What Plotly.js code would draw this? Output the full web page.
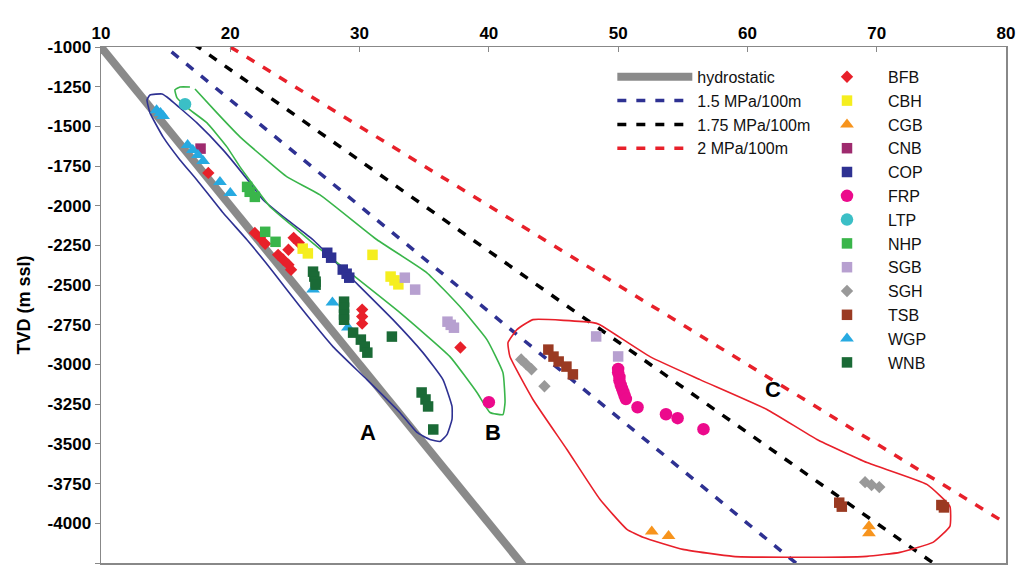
<!DOCTYPE html>
<html><head><meta charset="utf-8">
<script src="https://cdn.plot.ly/plotly-3.0.1.min.js"></script>
<style>html,body{margin:0;padding:0;background:#fff}</style>
</head><body><div id="chart" style="width:1019px;height:570px"></div>
<script>
// ---- gradient reference lines (MPa per 100 m) ----
const gradientNames = ["hydrostatic", "1.5 MPa/100m", "1.75 MPa/100m", "2 MPa/100m"];
const gradients = [1.0, 1.5, 1.75, 2.0];
const lineDepths = [500, 5000];

// ---- pressure data: x = pressure (MPa), y = TVD (m ssl) ----
const BFB_x = [18.3, 21.9, 22.3, 22.7, 24.9, 25.3, 24.5, 23.7, 24.1, 24.5, 24.7, 30.2, 30.2, 30.2, 37.8];
const BFB_y = [-1793, -2171, -2202, -2240, -2202, -2233, -2277, -2309, -2340, -2371, -2403, -2654, -2698, -2742, -2893];
const CBH_x = [25.6, 26.0, 31.0, 32.4, 32.7, 33.0];
const CBH_y = [-2270, -2300, -2309, -2446, -2470, -2495];
const CGB_x = [52.6, 53.9, 69.4, 69.4];
const CGB_y = [-4052, -4080, -4019, -4062];
const CNB_x = [17.7];
const CNB_y = [-1640];
const COP_x = [27.5, 27.8, 28.7, 29.0, 29.2];
const COP_y = [-2296, -2327, -2402, -2428, -2453];
const FRP_x = [40.0, 50.0, 50.0, 50.1, 50.1, 50.2, 50.3, 50.4, 50.5, 50.6, 51.5, 53.7, 54.6, 56.6];
const FRP_y = [-3237, -3028, -3050, -3078, -3100, -3129, -3150, -3173, -3195, -3217, -3269, -3313, -3338, -3407];
const LTP_x = [16.5];
const LTP_y = [-1360];
const NHP_x = [21.3, 21.5, 21.9, 22.7, 23.5];
const NHP_y = [-1881, -1912, -1944, -2164, -2227];
const SGB_x = [33.5, 34.3, 36.8, 37.05, 37.3, 48.3, 50.0];
const SGB_y = [-2453, -2528, -2730, -2750, -2768, -2823, -2949];
const SGH_x = [42.5, 42.9, 43.3, 44.3, 69.1, 69.6, 70.2];
const SGH_y = [-2968, -2999, -3030, -3137, -3741, -3759, -3772];
const TSB_x = [44.6, 45.0, 45.4, 46.0, 46.5, 67.1, 67.3, 75.0, 75.2];
const TSB_y = [-2906, -2950, -2981, -3013, -3062, -3870, -3895, -3885, -3900];
const WGP_x = [14.3, 14.6, 14.8, 16.7, 17.1, 17.5, 17.9, 19.2, 20.0, 26.4, 27.9, 29.1];
const WGP_y = [-1398, -1416, -1435, -1617, -1649, -1680, -1718, -1850, -1919, -2528, -2610, -2767];
const WNB_x = [26.4, 26.5, 26.6, 26.6, 28.8, 28.8, 28.8, 28.8, 29.5, 30.1, 30.4, 30.6, 32.5, 34.8, 35.1, 35.3, 35.7];
const WNB_y = [-2415, -2446, -2478, -2497, -2604, -2642, -2686, -2718, -2799, -2843, -2887, -2925, -2824, -3176, -3220, -3264, -3409];

// ---- hand-drawn group outlines A, B, C ----
const A_x = [13.56, 13.79, 14.72, 15.10, 17.42, 19.44, 21.52, 22.53, 24.39, 26.40, 29.26, 32.58, 34.90, 36.45, 37.15, 37.15, 36.76, 36.22, 35.44, 34.44, 33.12, 30.57, 27.94, 25.39, 23.30, 21.29, 19.44, 17.42, 16.11, 14.80, 13.79, 13.56];
const A_y = [-1333, -1302, -1296, -1315, -1478, -1648, -1855, -1962, -2088, -2214, -2447, -2717, -2925, -3095, -3264, -3346, -3441, -3485, -3472, -3428, -3302, -3095, -2887, -2635, -2415, -2214, -2044, -1837, -1711, -1566, -1415, -1333];
const B_x = [17.27, 18.97, 20.75, 22.53, 24.39, 26.94, 31.35, 35.21, 37.76, 39.85, 41.09, 41.25, 41.09, 40.09, 39.08, 36.99, 33.12, 29.26, 26.71, 25.16, 23.07, 22.06, 20.75, 19.74, 18.20, 16.88, 15.88, 15.72, 16.11, 16.88];
const B_y = [-1264, -1415, -1566, -1692, -1818, -1931, -2214, -2422, -2635, -2843, -3051, -3239, -3315, -3302, -3176, -2950, -2673, -2422, -2258, -2151, -2006, -1899, -1755, -1629, -1478, -1396, -1321, -1270, -1252, -1252];
const C_x = [43.41, 48.05, 48.59, 52.46, 56.33, 61.51, 65.38, 69.24, 73.88, 75.66, 75.66, 74.35, 71.79, 69.24, 64.06, 58.88, 55.01, 51.92, 50.68, 48.59, 46.04, 43.41, 41.63, 41.48, 42.17, 43.41];
const C_y = [-2717, -2736, -2749, -2950, -3095, -3283, -3472, -3617, -3755, -3893, -4019, -4120, -4183, -4208, -4214, -4208, -4164, -4088, -4038, -3849, -3535, -3220, -2950, -2862, -2780, -2717];

// ---- axis ticks ----
const xTicks = [10, 20, 30, 40, 50, 60, 70, 80];
const yTicks = [-1000, -1250, -1500, -1750, -2000, -2250, -2500, -2750, -3000, -3250, -3500, -3750, -4000, -4250];
const yTickText = yTicks.map(v => "-" + Math.abs(v));

const lineStyles = [
  {color: "#8a8a8a", width: 8, dash: "solid"},
  {color: "#2e3192", width: 3.5, dash: "9px,10px"},
  {color: "#000000", width: 3.5, dash: "9px,10px"},
  {color: "#e8202a", width: 3.5, dash: "9px,10px"}
];

const traces = [];
gradients.forEach((g, i) => {
  traces.push({
    type: "scatter", mode: "lines", name: gradientNames[i],
    x: lineDepths.map(d => g * d / 100), y: lineDepths.map(d => -d),
    line: lineStyles[i], legend: "legend", hoverinfo: "skip"
  });
});

const outlines = [[A_x, A_y, "#2e3192"], [B_x, B_y, "#39b54a"], [C_x, C_y, "#e8202a"]];
outlines.forEach(o => {
  traces.push({type: "scatter", mode: "lines", x: o[0], y: o[1], showlegend: false,
    line: {color: o[2], width: 1.6, shape: "spline", smoothing: 0.4}, hoverinfo: "skip"});
});

const series = [
  ["BFB", BFB_x, BFB_y, "#e8202a", "diamond", 9.5],
  ["CBH", CBH_x, CBH_y, "#f5ee1e", "square", 10.5],
  ["CGB", CGB_x, CGB_y, "#f7941d", "triangle-up", 12],
  ["CNB", CNB_x, CNB_y, "#9e2a6e", "square", 10.5],
  ["COP", COP_x, COP_y, "#2e3192", "square", 10.5],
  ["FRP", FRP_x, FRP_y, "#ec0a8c", "circle", 12.5],
  ["LTP", LTP_x, LTP_y, "#3bbfc6", "circle", 12.5],
  ["NHP", NHP_x, NHP_y, "#39b54a", "square", 10.5],
  ["SGB", SGB_x, SGB_y, "#b7a0d0", "square", 10.5],
  ["SGH", SGH_x, SGH_y, "#999999", "diamond", 9.5],
  ["TSB", TSB_x, TSB_y, "#9a3a22", "square", 10.5],
  ["WGP", WGP_x, WGP_y, "#27aae1", "triangle-up", 12],
  ["WNB", WNB_x, WNB_y, "#1a6a36", "square", 10.5]
];
series.forEach(s => {
  traces.push({type: "scatter", mode: "markers", name: s[0], x: s[1], y: s[2],
    marker: {color: s[3], symbol: s[4], size: s[5]}, legend: "legend2"});
});

const FONT = "Liberation Sans, Arial, sans-serif";
const tickFont = {family: FONT, size: 17, color: "#000", weight: "bold"};
const legFont = {family: FONT, size: 16, color: "#111"};
const labelFont = {family: FONT, size: 22, weight: "bold", color: "#000"};
const layout = {
  width: 1019, height: 570,
  margin: {l: 101, r: 13, t: 47, b: 7},
  paper_bgcolor: "#fff", plot_bgcolor: "#fff",
  showlegend: true,
  xaxis: {side: "top", range: [10, 80], tickvals: xTicks, ticks: "inside", ticklen: 5,
    tickcolor: "#888", showgrid: false, zeroline: false, showline: true, linecolor: "#888",
    linewidth: 1.5, mirror: true, tickfont: tickFont},
  yaxis: {range: [-4250, -1000], tickvals: yTicks, ticktext: yTickText, ticks: "outside", ticklen: 5,
    tickcolor: "#888", showgrid: false, zeroline: false, showline: true, linecolor: "#888",
    linewidth: 1.5, mirror: true, tickfont: tickFont,
    title: {text: "TVD (m ssl)", font: {family: FONT, size: 18, weight: "bold", color: "#000"}, standoff: 12}},
  legend: {x: 0.565, y: 0.975, xanchor: "left", yanchor: "top", bgcolor: "rgba(0,0,0,0)",
    font: legFont, itemwidth: 75, tracegroupgap: 0},
  legend2: {x: 0.779, y: 0.975, xanchor: "left", yanchor: "top", bgcolor: "rgba(0,0,0,0)",
    font: legFont, itemwidth: 72, tracegroupgap: 0},
  annotations: [
    {x: 30.65, y: -3428, text: "A", showarrow: false, font: labelFont},
    {x: 40.32, y: -3428, text: "B", showarrow: false, font: labelFont},
    {x: 61.97, y: -3157, text: "C", showarrow: false, font: labelFont}
  ]
};
Plotly.newPlot("chart", traces, layout, {displayModeBar: false, staticPlot: true});
</script></body></html>
